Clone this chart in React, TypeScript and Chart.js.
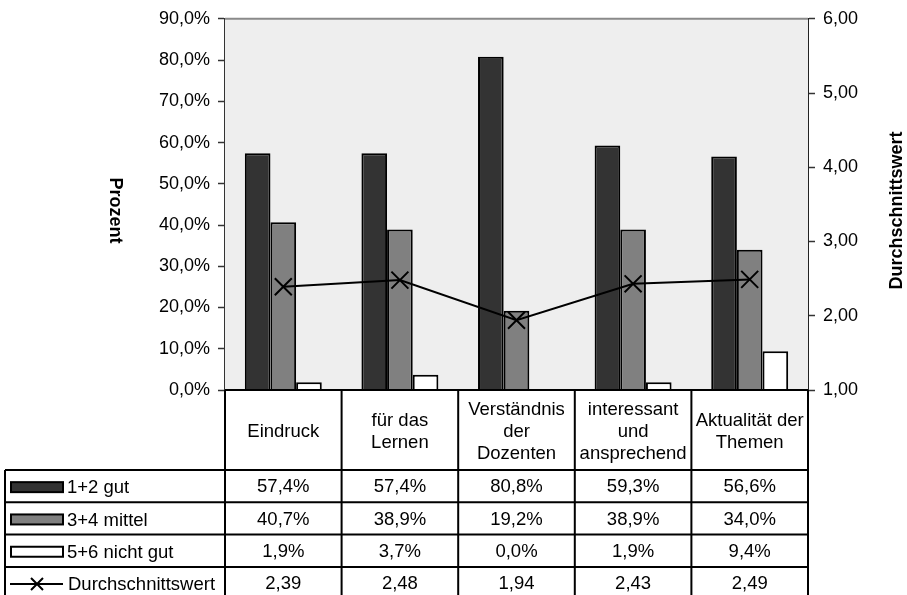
import React, { useEffect, useRef } from "react";
import { Chart, registerables } from "chart.js";

Chart.register(...registerables);

// Survey categories (multi-line header labels of the data table)
const categories: string[][] = [
  ["Eindruck"],
  ["für das", "Lernen"],
  ["Verständnis", "der", "Dozenten"],
  ["interessant", "und", "ansprechend"],
  ["Aktualität der", "Themen"],
];

// Share of answers per rating group, in percent
const gut: number[] = [57.4, 57.4, 80.8, 59.3, 56.6];
const mittel: number[] = [40.7, 38.9, 19.2, 38.9, 34.0];
const nichtGut: number[] = [1.9, 3.7, 0.0, 1.9, 9.4];

// Average rating per category (right axis)
const durchschnitt: number[] = [2.39, 2.48, 1.94, 2.43, 2.49];

const seriesNames: string[] = ["1+2 gut", "3+4 mittel", "5+6 nicht gut", "Durchschnittswert"];
const leftTitle = "Prozent";
const rightTitle = "Durchschnittswert";

const FONT = '"Liberation Sans", Arial, Helvetica, sans-serif';
const COLORS = ["#333333", "#808080", "#ffffff"];

const fmtPct = (v: number) => v.toFixed(1).replace(".", ",") + "%";
const fmtAvg = (v: number) => v.toFixed(2).replace(".", ",");

// Plot background, top frame and axis titles
const framePlugin = {
  id: "frame",
  beforeDatasetsDraw(chart: any) {
    const { ctx, chartArea: a } = chart;
    ctx.save();
    ctx.fillStyle = "#eeeeee";
    ctx.fillRect(a.left, a.top, a.right - a.left, a.bottom - a.top);
    ctx.strokeStyle = "#8a8a8a";
    ctx.lineWidth = 2;
    ctx.beginPath();
    ctx.moveTo(a.left, a.top);
    ctx.lineTo(a.right, a.top);
    ctx.stroke();
    ctx.restore();
  },
  afterDraw(chart: any) {
    const { ctx, chartArea: a } = chart;
    const midY = (a.top + a.bottom) / 2 + 6;
    ctx.save();
    ctx.fillStyle = "#000";
    ctx.font = `bold 18px ${FONT}`;
    ctx.textAlign = "center";
    ctx.textBaseline = "middle";
    // left title reads top to bottom
    ctx.save();
    ctx.translate(115, midY);
    ctx.rotate(Math.PI / 2);
    ctx.fillText(leftTitle, 0, 0);
    ctx.restore();
    // right title reads bottom to top
    ctx.save();
    ctx.translate(chart.width - 10, midY);
    ctx.rotate(-Math.PI / 2);
    ctx.fillText(rightTitle, 0, 0);
    ctx.restore();
    ctx.restore();
  },
};

// Data table below the plot, with category headers and legend keys
const tablePlugin = {
  id: "dataTable",
  afterDraw(chart: any) {
    const { ctx, chartArea: a } = chart;
    const n = categories.length;
    const colW = (a.right - a.left) / n;
    const headerTop = a.bottom;
    const headerBottom = a.bottom + 80;
    const rowH = 32.3;
    const rows = [gut, mittel, nichtGut, durchschnitt];
    const tableBottom = headerBottom + rowH * rows.length;
    const leftEdge = 5;

    ctx.save();
    ctx.strokeStyle = "#000";
    ctx.lineWidth = 2;
    ctx.beginPath();
    // header top
    ctx.moveTo(a.left, headerTop);
    ctx.lineTo(a.right, headerTop);
    // row lines
    for (let r = 0; r <= rows.length; r++) {
      const y = headerBottom + r * rowH;
      ctx.moveTo(leftEdge, y);
      ctx.lineTo(a.right, y);
    }
    // column lines
    for (let i = 0; i <= n; i++) {
      const x = a.left + i * colW;
      ctx.moveTo(x, headerTop);
      ctx.lineTo(x, tableBottom);
    }
    ctx.moveTo(leftEdge, headerBottom);
    ctx.lineTo(leftEdge, tableBottom);
    ctx.stroke();

    ctx.fillStyle = "#000";
    ctx.font = `18.5px ${FONT}`;
    ctx.textAlign = "center";
    ctx.textBaseline = "middle";
    const headerMid = (headerTop + headerBottom) / 2;
    const lh = 22;
    categories.forEach((lines, i) => {
      const cx = a.left + (i + 0.5) * colW;
      const y0 = headerMid - ((lines.length - 1) * lh) / 2;
      lines.forEach((t, k) => ctx.fillText(t, cx, y0 + k * lh + 2));
    });

    rows.forEach((vals, r) => {
      const cy = headerBottom + (r + 0.5) * rowH;
      vals.forEach((v, i) => {
        const cx = a.left + (i + 0.5) * colW;
        ctx.fillText(r < 3 ? fmtPct(v) : fmtAvg(v), cx, cy + 1);
      });
    });

    // legend keys
    ctx.textAlign = "left";
    rows.forEach((_, r) => {
      const cy = headerBottom + (r + 0.5) * rowH;
      if (r < 3) {
        ctx.fillStyle = COLORS[r];
        ctx.fillRect(11, cy - 4, 52, 10);
        ctx.strokeRect(11, cy - 4, 52, 10);
      } else {
        ctx.beginPath();
        ctx.moveTo(10, cy + 1);
        ctx.lineTo(63, cy + 1);
        ctx.moveTo(31, cy - 5);
        ctx.lineTo(43, cy + 7);
        ctx.moveTo(43, cy - 5);
        ctx.lineTo(31, cy + 7);
        ctx.stroke();
      }
      ctx.fillStyle = "#000";
      ctx.fillText(seriesNames[r], r < 3 ? 67 : 68, cy + 2);
    });
    ctx.restore();
  },
};

export default function App() {
  const canvasRef = useRef<HTMLCanvasElement | null>(null);

  useEffect(() => {
    if (!canvasRef.current) return;
    const barDs = (label: string, data: number[], color: string) => ({
      type: "bar" as const,
      label,
      data,
      backgroundColor: color,
      borderColor: "#000",
      borderWidth: (c: any) => (c.raw === 0 ? 0 : 2),
      borderSkipped: "start" as const,
      yAxisID: "y",
      order: 1,
      categoryPercentage: 0.66,
      barPercentage: 1.0,
    });

    const chart = new Chart(canvasRef.current, {
      data: {
        labels: categories,
        datasets: [
          {
            type: "line",
            label: seriesNames[3],
            data: durchschnitt,
            yAxisID: "y1",
            borderColor: "#000",
            borderWidth: 2,
            pointStyle: "crossRot",
            pointRadius: 12,
            pointBorderWidth: 2,
            pointBorderColor: "#000",
            tension: 0,
            order: 0,
          },
          barDs(seriesNames[0], gut, COLORS[0]),
          barDs(seriesNames[1], mittel, COLORS[1]),
          barDs(seriesNames[2], nichtGut, COLORS[2]),
        ],
      } as any,
      plugins: [framePlugin, tablePlugin],
      options: {
        animation: false,
        responsive: true,
        maintainAspectRatio: false,
        layout: { padding: { top: 16, bottom: 205, left: 0, right: 0 } },
        plugins: { legend: { display: false }, tooltip: { enabled: false } },
        scales: {
          x: { display: false, offset: true },
          y: {
            position: "left",
            min: 0,
            max: 90,
            ticks: {
              stepSize: 10,
              color: "#000",
              padding: 8,
              font: { family: FONT, size: 18 },
              callback: (v: any) => fmtPct(Number(v)),
            },
            grid: { drawOnChartArea: false, tickLength: 7, tickColor: "#333", tickWidth: 1.5 },
            border: { display: true, color: "#333", width: 2 },
            afterFit: (s: any) => {
              s.width = 225;
            },
          },
          y1: {
            position: "right",
            min: 1,
            max: 6,
            ticks: {
              stepSize: 1,
              color: "#000",
              padding: 8,
              font: { family: FONT, size: 18 },
              callback: (v: any) => fmtAvg(Number(v)),
            },
            grid: { drawOnChartArea: false, tickLength: 7, tickColor: "#333", tickWidth: 1.5 },
            border: { display: true, color: "#222", width: 2 },
            afterFit: (s: any) => {
              s.width = 99;
            },
          },
        },
      } as any,
    });
    return () => chart.destroy();
  }, []);

  return (
    <div style={{ position: "absolute", left: 0, top: 0, width: 907, height: 595, background: "#fff" }}>
      <canvas ref={canvasRef} />
    </div>
  );
}
